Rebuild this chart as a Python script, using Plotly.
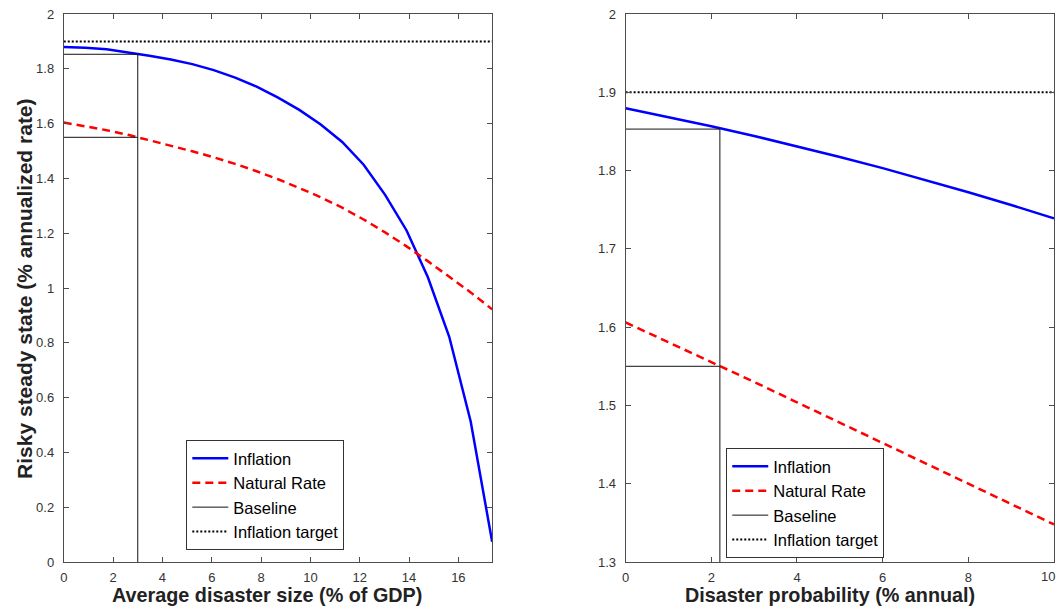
import plotly.graph_objects as go

# ---------------- data ----------------
size_x = [0.0, 0.87, 1.74, 2.61, 3.47, 4.34, 5.21, 6.08, 6.95, 7.82, 8.69,
          9.55, 10.42, 11.29, 12.16, 13.03, 13.9, 14.76, 15.63, 16.5, 17.37]
infl_size = [1.880, 1.877, 1.871, 1.860, 1.848, 1.834, 1.817, 1.795, 1.768, 1.735, 1.695,
             1.650, 1.597, 1.533, 1.450, 1.340, 1.210, 1.040, 0.822, 0.513, 0.074]
nat_size = [1.604, 1.591, 1.576, 1.559, 1.540, 1.520, 1.499, 1.477, 1.453, 1.426, 1.397,
            1.365, 1.331, 1.293, 1.250, 1.203, 1.152, 1.098, 1.042, 0.984, 0.922]

prob_x = [0, 1, 2, 3, 4, 5, 6, 7, 8, 9, 10]
infl_prob = [1.8795, 1.8684, 1.8566, 1.8442, 1.8311, 1.8174, 1.8031, 1.7880, 1.7723, 1.7560, 1.7390]
nat_prob = [1.606, 1.581, 1.556, 1.530, 1.504, 1.478, 1.452, 1.426, 1.400, 1.374, 1.348]

target = 1.9
base_size = 3.0
base_prob = 2.2
base_infl = 1.853
base_nat = 1.55

left_xticks = [0, 2, 4, 6, 8, 10, 12, 14, 16]
left_yticks = [0, 0.2, 0.4, 0.6, 0.8, 1, 1.2, 1.4, 1.6, 1.8, 2]
right_xticks = [0, 2, 4, 6, 8, 10]
right_yticks = [1.3, 1.4, 1.5, 1.6, 1.7, 1.8, 1.9, 2]

legend_names = ["Inflation", "Natural Rate", "Baseline", "Inflation target"]

# ---------------- figure ----------------
W, H = 1057, 607
ML, MR, MT, MB = 0, 0, 14, 45
PLOT_H = H - MT - MB
FONT = "Liberation Sans, Arial, Helvetica, sans-serif"
TICK_FONT = dict(family=FONT, size=13, color="#333333")

fig = go.Figure()


def add_panel(xs, infl, nat, bx, ylow, xref, yref, leg):
    fig.add_trace(go.Scatter(x=xs, y=infl, mode="lines", name=legend_names[0],
                             line=dict(color="#0000ff", width=2.5),
                             xaxis=xref, yaxis=yref, legend=leg))
    fig.add_trace(go.Scatter(x=xs, y=nat, mode="lines", name=legend_names[1],
                             line=dict(color="#ff0000", width=2.5, dash="8px,5px"),
                             xaxis=xref, yaxis=yref, legend=leg))
    fig.add_trace(go.Scatter(x=[xs[0], bx, bx, None, xs[0], bx],
                             y=[base_infl, base_infl, ylow, None, base_nat, base_nat],
                             mode="lines", name=legend_names[2],
                             line=dict(color="#111111", width=1),
                             xaxis=xref, yaxis=yref, legend=leg))
    fig.add_trace(go.Scatter(x=[xs[0], xs[-1]], y=[target, target], mode="lines",
                             name=legend_names[3],
                             line=dict(color="#000000", width=2, dash="2px,2px"),
                             xaxis=xref, yaxis=yref, legend=leg))


add_panel(size_x, infl_size, nat_size, base_size, left_yticks[0], "x", "y", "legend")
add_panel(prob_x, infl_prob, nat_prob, base_prob, right_yticks[0], "x2", "y2", "legend2")

axis_common = dict(showline=True, linecolor="#4d4d4d", linewidth=1, mirror="ticks",
                   ticks="inside", ticklen=5, tickwidth=1, tickcolor="#4d4d4d",
                   showgrid=False, zeroline=False, tickfont=TICK_FONT)

dom_l = [60 / W, 490 / W]
dom_r = [624 / W, 1054 / W]

legend_common = dict(xanchor="left", yanchor="top",
                     bgcolor="white", bordercolor="#333333", borderwidth=1,
                     font=dict(family=FONT, size=16.5, color="#000000"), itemwidth=36,
                     tracegroupgap=0)

fig.update_layout(
    width=W, height=H,
    margin=dict(l=ML, r=MR, t=MT, b=MB),
    paper_bgcolor="white", plot_bgcolor="white",
    font=dict(family=FONT, color="#000000"),
    xaxis=dict(domain=dom_l, range=[size_x[0], size_x[-1]], tickvals=left_xticks,
               anchor="y", ticklabelstandoff=3, **axis_common),
    yaxis=dict(domain=[0, 1], range=[left_yticks[0], left_yticks[-1]], tickvals=left_yticks,
               anchor="x", ticklabelstandoff=6, **axis_common),
    xaxis2=dict(domain=dom_r, range=[prob_x[0], prob_x[-1]], tickvals=right_xticks,
                anchor="y2", ticklabelstandoff=3, **axis_common),
    yaxis2=dict(domain=[0, 1], range=[right_yticks[0], right_yticks[-1]], tickvals=right_yticks,
                anchor="x2", ticklabelstandoff=6, **axis_common),
    legend=dict(x=183 / W, y=(562 - 440) / PLOT_H, **legend_common),
    legend2=dict(x=725 / W, y=(562 - 448) / PLOT_H, **legend_common),
    showlegend=True,
)

# last x tick label of the right panel sits at the page edge (cut off in the original);
# plotly hides it past the div, so place it flush with the right edge
fig.add_annotation(text=str(right_xticks[-1]), xref="paper", yref="paper",
                   x=1.0, y=(562 - 576) / PLOT_H, xanchor="right", yanchor="middle",
                   showarrow=False, font=TICK_FONT)

title_font = dict(family=FONT, size=19.8, color="#222222")
fig.add_annotation(text="<b>Average disaster size (% of GDP)</b>", xref="paper", yref="paper",
                   x=264 / W, y=(562 - 595) / PLOT_H, xanchor="center", yanchor="middle",
                   showarrow=False, font=title_font)
fig.add_annotation(text="<b>Disaster probability (% annual)</b>", xref="paper", yref="paper",
                   x=829 / W, y=(562 - 595) / PLOT_H, xanchor="center", yanchor="middle",
                   showarrow=False, font=title_font)
fig.add_annotation(text="<b>Risky steady state (% annualized rate)</b>", xref="paper", yref="paper",
                   x=20 / W, y=(562 - 289) / PLOT_H, xanchor="center", yanchor="middle",
                   textangle=-90, showarrow=False,
                   font=dict(family=FONT, size=21, color="#222222"))

fig.write_html("out.html")
